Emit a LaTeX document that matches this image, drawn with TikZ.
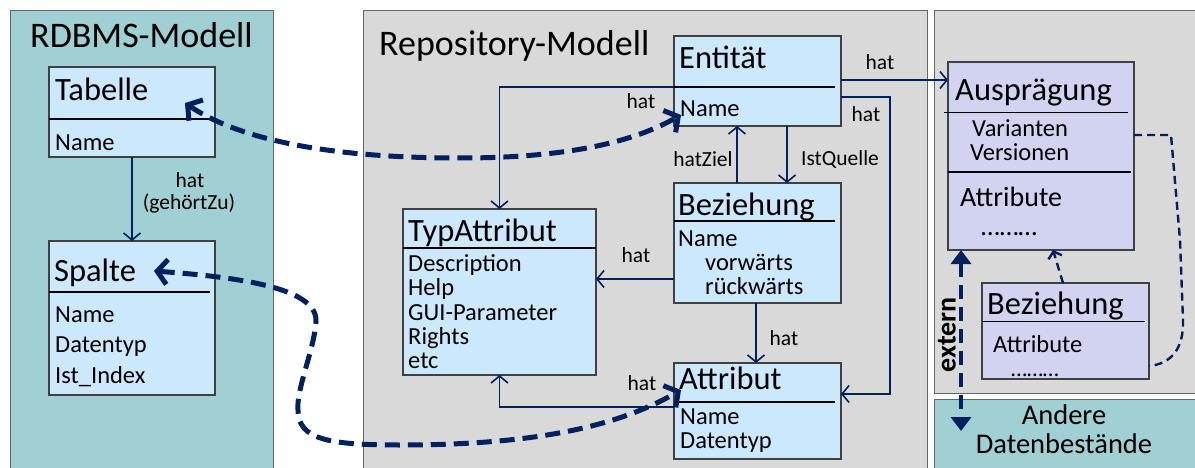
\documentclass[tikz,border=0pt]{standalone}
\usepackage{fontspec}
\setmainfont{Carlito}
\usetikzlibrary{arrows.meta,calc}
\definecolor{tealpanel}{HTML}{A0CFD4}
\definecolor{graypanel}{HTML}{D9D9D9}
\definecolor{boxblue}{HTML}{CCE8FC}
\definecolor{boxlav}{HTML}{D1D3F1}
\definecolor{navy}{HTML}{002060}
\tikzset{
  panel/.style={draw=black!60, line width=1pt},
  umlbox/.style={draw=black!75, line width=1.2pt, inner sep=0pt, outer sep=0pt},
  sep/.style={line width=1.4pt},
  heading/.style={inner sep=0pt, font=\fontsize{36}{42}\selectfont},
  ttl/.style={anchor=base west, inner sep=0pt, font=\fontsize{32.5}{38}\selectfont},
  txt/.style={anchor=base west, inner sep=0pt, font=\fontsize{24.5}{29}\selectfont},
  lbl/.style={inner sep=0pt, font=\fontsize{21.5}{25}\selectfont},
  conn/.style={draw=navy, line width=1.6pt, -{Straight Barb[length=7pt,width=17pt]}},
  bigdash/.style={draw=navy, line width=5pt, dash pattern=on 15pt off 8pt,
    {Straight Barb[length=10pt,width=25pt]}-{Straight Barb[length=10pt,width=25pt]}},
  thindash/.style={draw=navy, line width=2.4pt, dash pattern=on 8pt off 5pt},
}
\begin{document}
\begin{tikzpicture}[x=1pt,y=-1pt]
\useasboundingbox (0,0) rectangle (1195,468);
\fill[white] (0,0) rectangle (1195,468);

% background panels
\draw[panel, fill=tealpanel] (10.5,10.5) rectangle (273,480);
\draw[panel, fill=graypanel] (363,10.5) rectangle (927,480);
\draw[panel, fill=graypanel] (934,10.5) rectangle (1205,393);
\draw[panel, fill=tealpanel] (934,399) rectangle (1205,480);

\node[heading, anchor=base] (tRD) at (141.5,48) {RDBMS-Modell};
\node[heading, anchor=base west] (tRep) at (379,56) {Repository-Modell};

% RDBMS model
\node[umlbox, fill=boxblue, minimum width=166pt, minimum height=90pt] (tab) at (132,112) {};
\draw[sep] (49,119) -- (210,119);
\node[ttl] (tabT) at (55,101) {Tabelle};
\node[txt] (tabN) at (55,151) {Name};

\node[umlbox, fill=boxblue, minimum width=166pt, minimum height=154pt] (spa) at (132,318) {};
\draw[sep] (49,292) -- (210,292);
\node[ttl] (spaT) at (54,281) {Spalte};
\node[txt] (spaA) at (55,322) {Name};
\node[txt] (spaB) at (55,352) {Datentyp};
\node[txt] (spaC) at (55,383) {Ist\_Index};

\draw[conn] (tab.south) -- (spa.north);
\node[lbl] (lTab) at (190,180) {hat};
\node[lbl] (lTab2) at (189,203) {(gehörtZu)};

% repository model
\node[umlbox, fill=boxblue, minimum width=167pt, minimum height=90pt] (ent) at (757.5,81) {};
\draw[sep] (674,87) -- (835,87);
\node[ttl] (entT) at (679,69) {Entität};
\node[txt] (entN) at (680,117) {Name};

\node[umlbox, fill=boxblue, minimum width=167pt, minimum height=120pt] (bez) at (757.5,243) {};
\draw[sep] (674,221) -- (835,221);
\node[ttl] (bezT) at (678,215) {Beziehung};
\node[txt] (bezA) at (678,246) {Name};
\node[txt] (bezB) at (705,270) {vorwärts};
\node[txt] (bezC) at (705,294) {rückwärts};

\node[umlbox, fill=boxblue, minimum width=193pt, minimum height=166pt] (typ) at (499.5,292) {};
\draw[sep] (403,248) -- (596,248);
\node[ttl] (typT) at (408,241) {TypAttribut};
\node[txt] (typA) at (408,271) {Description};
\node[txt] (typB) at (408,295) {Help};
\node[txt] (typC) at (408,320) {GUI-Parameter};
\node[txt] (typD) at (408,344) {Rights};
\node[txt] (typE) at (408,368) {etc};

\node[umlbox, fill=boxblue, minimum width=167pt, minimum height=96pt] (att) at (757.5,411) {};
\draw[sep] (674,402) -- (835,402);
\node[ttl] (attT) at (679,389) {Attribut};
\node[txt] (attA) at (680,424) {Name};
\node[txt] (attB) at (680,448) {Datentyp};

% instance side
\node[umlbox, fill=boxlav, minimum width=186pt, minimum height=188pt] (aus) at (1041,156) {};
\draw[line width=1pt] (944,113) -- (1128,113);
\draw[sep] (948,172) -- (1131,172);
\node[ttl] (ausT) at (955,101) {Ausprägung};
\node[txt] (ausA) at (972,137) {Varianten};
\node[txt] (ausB) at (970,161) {Versionen};
\node[anchor=base west, inner sep=0pt, font=\fontsize{28}{34}\selectfont] (ausC) at (960,207) {Attribute};
\node[anchor=base west, inner sep=0pt, font=\fontsize{27}{32}\selectfont] (ausD) at (981,235) {………};

\node[umlbox, fill=boxlav, minimum width=167pt, minimum height=96pt] (bez2) at (1065.5,331) {};
\draw[line width=1pt] (982,321) -- (1145,321);
\node[ttl] (bez2T) at (987,314) {Beziehung};
\node[txt] (bez2A) at (993,352) {Attribute};
\node[anchor=base west, inner sep=0pt, font=\fontsize{23}{27}\selectfont] (bez2B) at (1011,376) {………};

\node[anchor=base, inner sep=0pt, font=\fontsize{28.5}{34}\selectfont] (andA) at (1064,424) {Andere};
\node[anchor=base, inner sep=0pt, font=\fontsize{28.5}{34}\selectfont] (andB) at (1064,453) {Datenbestände};

% structural relations
\draw[conn] ([yshift=-6pt]ent.west) -| (typ.north);
\node[lbl] (l1) at (641,101) {hat};
\draw[conn] ([yshift=1pt]ent.east) -- ([yshift=1pt]ent.east -| aus.west);
\node[lbl] (l2) at (880,62) {hat};
\draw[conn] ([yshift=-16pt]ent.east) -- ++(49,0) |- ([yshift=17pt]att.east);
\node[lbl] (l3) at (866,114) {hat};
\draw[conn] ([xshift=-20.5pt]bez.north) -- ([xshift=-20.5pt]ent.south);
\node[lbl] (l4) at (703,159) {hatZiel};
\draw[conn] ([xshift=29.5pt]ent.south) -- ([xshift=29.5pt]bez.north);
\node[lbl] (l5) at (840,159) {IstQuelle};
\draw[conn] ([yshift=-36pt]bez.west) -- ([yshift=-36pt]bez.west -| typ.east);
\node[lbl] (l6) at (636,255) {hat};
\draw[conn] ([xshift=-1.5pt]bez.south) -- ([xshift=-1.5pt]att.north);
\node[lbl] (l7) at (784,338) {hat};
\draw[conn] ([yshift=4pt]att.west) -| (typ.south);
\node[lbl] (l8) at (642,383) {hat};

% mappings between the models
\coordinate (tabIn) at (185,103);
\coordinate (entIn) at (681,115);
\draw[bigdash] (tabIn) .. controls (240,140) and (330,158) .. (460,158)
  .. controls (580,158) and (640,138) .. (entIn);
\coordinate (spaIn) at (154,271);
\coordinate (attIn) at (681,390);
\draw[bigdash] (spaIn) .. controls (250,278) and (318,290) .. (316,322)
  .. controls (314,350) and (296,390) .. (298,410)
  .. controls (298,440) and (330,445) .. (400,445)
  .. controls (540,445) and (620,425) .. (attIn);

% instance relations
\draw[thindash, -{Straight Barb[length=6pt,width=14pt]}] ([xshift=-2.5pt]bez2.north) -- ([xshift=12pt]aus.south);
\draw[thindash] ([yshift=21pt]aus.east) -- (1171,135) -- (1180,240) -- (1183,320)
  .. controls (1184,350) and (1170,364) .. ([yshift=-35pt]bez2.east);

\coordinate (extBot) at (961,431);
\draw[navy, line width=4pt, dash pattern=on 14pt off 8pt,
  {Triangle[length=14pt,width=20pt]}-{Triangle[length=14pt,width=20pt]}]
  ([xshift=13pt]aus.south west) -- (extBot);
\node[rotate=90, inner sep=0pt, font=\fontsize{28}{34}\selectfont\bfseries] (ext) at (947,335) {extern};
\end{tikzpicture}
\end{document}
